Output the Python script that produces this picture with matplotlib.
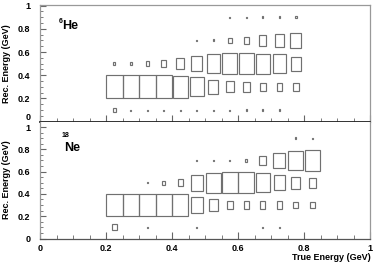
import matplotlib
matplotlib.use("Agg")
import matplotlib.pyplot as plt
from matplotlib.patches import Rectangle
from matplotlib.ticker import MultipleLocator, FuncFormatter
import matplotlib.transforms as mtransforms

plt.rcParams['font.family'] = ['Liberation Sans', 'DejaVu Sans']
plt.rcParams['font.weight'] = 'bold'

# Bin definitions
x_start = 0.2
x_width = 0.05
y_centers = [0.1, 0.3, 0.5, 0.7, 0.9]
y_width = 0.2

# Relative cell contents (box scale), rows from y=0.1 to y=0.9
he6 = [
    [0.18, 0.05, 0.05, 0.05, 0.05, 0.05, 0.05, 0.05, 0.06, 0.07, 0.06, 0.0],
    [1.0, 1.0, 1.0, 1.0, 0.93, 0.82, 0.62, 0.47, 0.40, 0.37, 0.32, 0.35],
    [0.10, 0.10, 0.20, 0.30, 0.46, 0.64, 0.80, 0.92, 0.92, 0.86, 0.80, 0.60],
    [0.0, 0.0, 0.0, 0.0, 0.0, 0.06, 0.08, 0.23, 0.30, 0.45, 0.57, 0.66],
    [0.0, 0.0, 0.0, 0.0, 0.0, 0.0, 0.0, 0.05, 0.05, 0.08, 0.06, 0.10],
]
ne18 = [
    [0.28, 0.0, 0.05, 0.0, 0.0, 0.05, 0.0, 0.0, 0.0, 0.05, 0.06, 0.0, 0.0],
    [1.0, 1.0, 1.0, 1.0, 0.98, 0.70, 0.55, 0.38, 0.32, 0.32, 0.32, 0.29, 0.29],
    [0.0, 0.0, 0.06, 0.17, 0.33, 0.74, 0.90, 0.95, 0.95, 0.86, 0.67, 0.52, 0.45],
    [0.0, 0.0, 0.0, 0.0, 0.0, 0.05, 0.05, 0.08, 0.12, 0.40, 0.70, 0.88, 0.92],
    [0.0, 0.0, 0.0, 0.0, 0.0, 0.0, 0.0, 0.0, 0.0, 0.0, 0.0, 0.09, 0.06],
]
x_ticks = [0, 0.2, 0.4, 0.6, 0.8, 1]
y_ticks = [0, 0.2, 0.4, 0.6, 0.8, 1]

fig = plt.figure(figsize=(3.74, 2.67), dpi=100)
left, width = 40 / 374, 330 / 374
ax1 = fig.add_axes([left, 1 - 121.7 / 267, width, (121.7 - 5) / 267])
ax2 = fig.add_axes([left, 1 - 238.5 / 267, width, (238.5 - 121.7) / 267])

fs = 6.5
edge = '#707070'

def draw(ax, data):
    for r, yc in enumerate(y_centers):
        for i, v in enumerate(data[r]):
            if v <= 0:
                continue
            xc = x_start + x_width * (i + 0.5)
            w = x_width * v
            h = y_width * v
            ax.add_patch(Rectangle((xc - w / 2, yc - h / 2), w, h, fill=False,
                                   edgecolor=edge, linewidth=0.85))

def style(ax, ytop, show_xlabels, skip_zero):
    ax.set_xlim(0, 1)
    ax.set_ylim(0, ytop)
    ax.set_xticks(x_ticks)
    ax.set_yticks(y_ticks)
    ax.xaxis.set_minor_locator(MultipleLocator(0.05))
    ax.yaxis.set_minor_locator(MultipleLocator(0.05))
    fmt = FuncFormatter(lambda v, p: '%g' % round(v, 2))
    if skip_zero:
        yfmt = FuncFormatter(lambda v, p: '' if abs(v) < 1e-9 else '%g' % round(v, 2))
    else:
        yfmt = fmt
    ax.yaxis.set_major_formatter(yfmt)
    ax.xaxis.set_major_formatter(fmt)
    ax.tick_params(axis='both', which='both', direction='in', colors='#666666',
                   labelcolor='black', labelsize=fs, top=False, right=False)
    ax.tick_params(axis='y', which='major', length=4, width=0.8, pad=7)
    ax.tick_params(axis='y', which='minor', length=2.5, width=0.6)
    ax.tick_params(axis='x', which='major', length=5, width=0.8, pad=4)
    ax.tick_params(axis='x', which='minor', length=2.8, width=0.6)
    if not show_xlabels:
        ax.tick_params(axis='x', labelbottom=False)
    for s in ['top', 'right', 'left']:
        ax.spines[s].set_color('#999999')
        ax.spines[s].set_linewidth(0.9)
    ax.set_ylabel('Rec. Energy (GeV)', fontsize=fs, fontweight='bold')
    ax.yaxis.set_label_coords(-0.088, 0.5)

draw(ax1, he6)
draw(ax2, ne18)
style(ax1, 1.005, False, True)
style(ax2, 1.048, True, False)
ax1.spines['bottom'].set_color('#222222')
ax1.spines['bottom'].set_linewidth(1.3)
ax2.spines['top'].set_visible(False)
ax2.spines['bottom'].set_color('#555555')
ax2.spines['bottom'].set_linewidth(0.9)

# "0" label of the top panel, sitting just above the shared line
trans = mtransforms.blended_transform_factory(ax1.transAxes, ax1.transData)
ax1.text(-0.0275, 0.0, '0', transform=trans, fontsize=fs, fontweight='bold',
         ha='right', va='bottom')

# Panel labels
ax1.text(0.058, 0.855, '6', fontsize=5, fontweight='bold', ha='left', va='center',
         transform=ax1.transAxes)
ax1.text(0.067, 0.822, 'He', fontsize=9, fontweight='bold', ha='left', va='center',
         transform=ax1.transAxes)
ax2.text(0.064, 0.878, '18', fontsize=5, fontweight='bold', ha='left', va='center',
         transform=ax2.transAxes)
ax2.text(0.074, 0.775, 'Ne', fontsize=9, fontweight='bold', ha='left', va='center',
         transform=ax2.transAxes)

fig.text(371 / 374, 1 - 257 / 267, 'True Energy (GeV)', fontsize=fs,
         fontweight='bold', ha='right', va='center')

fig.savefig('out.png', dpi=100)
